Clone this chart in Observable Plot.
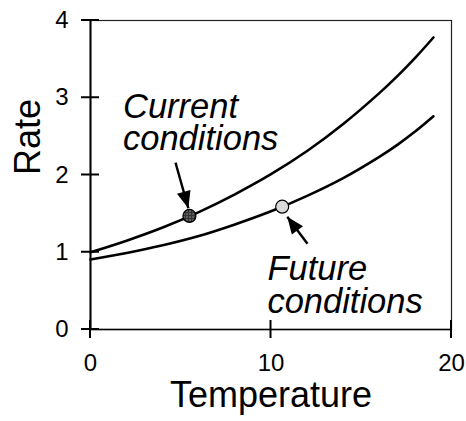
<!DOCTYPE html>
<html><head><meta charset="utf-8">
<script src="https://cdn.jsdelivr.net/npm/d3@7"></script>
<script src="https://cdn.jsdelivr.net/npm/@observablehq/plot@0.6"></script>
<style>body{margin:0;background:#fff}</style>
</head><body><div id="chart"></div>
<script>
// ---- data ----
const temperature = [0, 2, 4, 6, 8, 10, 12, 14, 16, 17, 18, 19];
const currentRate = [1.00, 1.15, 1.32, 1.52, 1.75, 2.01, 2.31, 2.66, 3.06, 3.28, 3.52, 3.78];
const futureRate  = [0.905, 0.99, 1.09, 1.21, 1.36, 1.53, 1.73, 1.96, 2.235, 2.39, 2.565, 2.76];
const pointTemperature = [5.48, 10.62];
const pointRate = [1.47, 1.59];
const labelText = ["Current\nconditions", "Future\nconditions"];
const labelTemperature = [1.8, 9.8];
const labelRate = [2.32, 0.22];
const arrowFromT = [4.71, 12.02];
const arrowFromR = [2.16, 1.11];
const arrowToT = [5.42, 10.9];
const arrowToR = [1.57, 1.46];
const xTicks = [0, 10, 20];
const yTicks = [0, 1, 2, 3, 4];

const curves = [
  ...temperature.map((t, i) => ({series: "current", t, r: currentRate[i]})),
  ...temperature.map((t, i) => ({series: "future", t, r: futureRate[i]}))
];
const points = pointTemperature.map((t, i) => ({t, r: pointRate[i], k: i}));
const labels = labelText.map((s, i) => ({s, t: labelTemperature[i], r: labelRate[i]}));
const arrows = arrowFromT.map((t, i) => ({t1: t, r1: arrowFromR[i], t2: arrowToT[i], r2: arrowToR[i]}));

const FONT = "'Liberation Sans', Arial, Helvetica, sans-serif";

function filledArrow(color, context) {
  const ns = "http://www.w3.org/2000/svg";
  const doc = (context && context.document) || document;
  const m = doc.createElementNS(ns, "marker");
  m.setAttribute("viewBox", "-18 -8 18 16");
  m.setAttribute("markerWidth", "18");
  m.setAttribute("markerHeight", "16");
  m.setAttribute("markerUnits", "userSpaceOnUse");
  m.setAttribute("orient", "auto");
  m.setAttribute("refX", "0");
  m.setAttribute("refY", "0");
  const p = doc.createElementNS(ns, "path");
  p.setAttribute("d", "M-17,-7L0,0L-17,7Z");
  p.setAttribute("fill", color);
  p.setAttribute("stroke", "none");
  m.appendChild(p);
  return m;
}

function build(marker) {
  return Plot.plot({
    width: 466,
    height: 421,
    marginTop: 20,
    marginRight: 15,
    marginBottom: 92,
    marginLeft: 90,
    style: {fontFamily: FONT, color: "#000", background: "#fff", overflow: "visible"},
    x: {domain: [0, 20], axis: null},
    y: {domain: [0, 4], axis: null},
    marks: [
      Plot.frame({stroke: "#222", strokeWidth: 1.2}),
      Plot.ruleX([0], {stroke: "#000", strokeWidth: 2}),
      Plot.ruleY([0], {stroke: "#000", strokeWidth: 1.6}),
      Plot.text(yTicks, {x: 0, y: d => d, text: d => String(d), textAnchor: "end", dx: -22, fontSize: 24, fill: "#000"}),
      Plot.text(xTicks, {x: d => d, y: 0, text: d => String(d), lineAnchor: "top", dy: 24, fontSize: 24, fill: "#000"}),
      Plot.line(curves, {x: "t", y: "r", z: "series", curve: "catmull-rom", stroke: "#000", strokeWidth: 2.6}),
      Plot.link(arrows, {x1: "t1", y1: "r1", x2: "t2", y2: "r2", stroke: "#000", strokeWidth: 2.4, markerEnd: marker}),
      Plot.dot(points, {x: "t", y: "r", r: 6.5, stroke: "#000", strokeWidth: 1.2,
        fill: d => d.k === 0 ? "url(#hatchDark)" : "url(#stippleLight)"}),
      Plot.text(labels, {x: "t", y: "r", text: "s", textAnchor: "start", lineAnchor: "bottom",
        lineHeight: 0.94, fontSize: 34.5, fontStyle: "italic", fill: "#000"}),
      Plot.text(["Rate"], {frameAnchor: "left", dx: -62, rotate: -90, fontSize: 36, fill: "#000"}),
      Plot.text(["Temperature"], {frameAnchor: "bottom", dy: 77, lineAnchor: "bottom", fontSize: 36, fill: "#000"})
    ]
  });
}

let chart;
try { chart = build(filledArrow); } catch (e) { console.log(e); chart = build("arrow"); }

const svg = d3.select(chart.tagName.toLowerCase() === "svg" ? chart : chart.querySelector("svg"));

// crossing tick marks on both axes, placed through the chart's own scales
const xs = chart.scale("x"), ys = chart.scale("y");
const tg = svg.append("g").attr("stroke", "#000").attr("stroke-width", 2).attr("stroke-linecap", "square");
for (const v of yTicks) {
  const py = ys.apply(v), px = xs.apply(0);
  tg.append("line").attr("x1", px - 8).attr("x2", px + 8).attr("y1", py).attr("y2", py);
}
for (const v of xTicks) {
  const px = xs.apply(v), py = ys.apply(0);
  tg.append("line").attr("x1", px).attr("x2", px).attr("y1", py - 8).attr("y2", py + 8);
}

// patterned fills for the two markers
const defs = svg.insert("defs", ":first-child");
const h = defs.append("pattern").attr("id", "hatchDark").attr("patternUnits", "userSpaceOnUse")
  .attr("width", 3).attr("height", 3);
h.append("rect").attr("width", 3).attr("height", 3).attr("fill", "#333");
h.append("rect").attr("width", 1).attr("height", 1).attr("fill", "#ddd");
const s = defs.append("pattern").attr("id", "stippleLight").attr("patternUnits", "userSpaceOnUse")
  .attr("width", 2).attr("height", 2);
s.append("rect").attr("width", 2).attr("height", 2).attr("fill", "#eee");
s.append("rect").attr("width", 1).attr("height", 1).attr("fill", "#999");

document.getElementById("chart").appendChild(chart);
</script>
</body></html>
